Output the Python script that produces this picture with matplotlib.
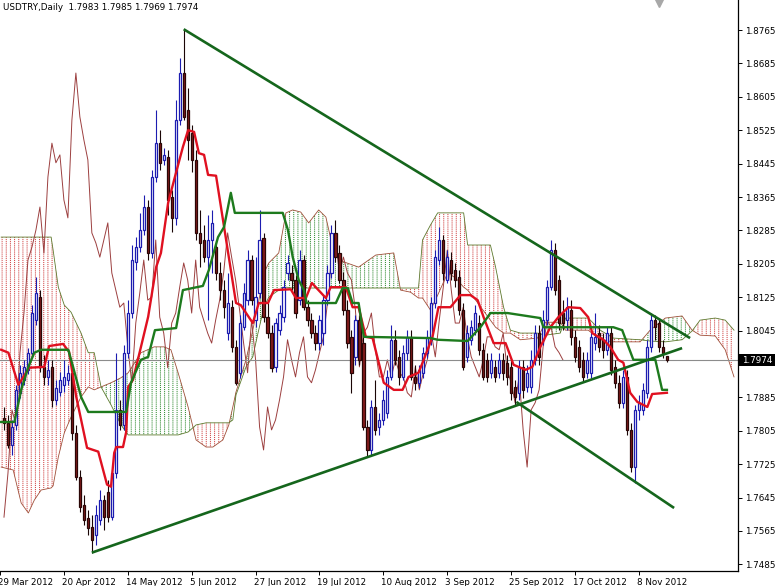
import numpy as np
import pandas as pd
import matplotlib
matplotlib.use("Agg")
from matplotlib import pyplot as plt
from matplotlib import transforms
from matplotlib.patches import Rectangle

symbol = "USDTRY,Daily"
last_quote = [1.7983, 1.7985, 1.7969, 1.7974]

opens = [
    1.7836, 1.7824, 1.7771, 1.7819, 1.7896, 1.7927, 1.7951, 1.7992, 1.8070, 1.8125,
    1.7958, 1.7934, 1.7958, 1.7879, 1.7898, 1.7915, 1.7927, 1.7944, 1.7800, 1.7694,
    1.7627, 1.7596, 1.7574, 1.7555, 1.7591, 1.7639, 1.7658, 1.7598, 1.7704, 1.7855,
    1.7819, 1.7992, 1.8087, 1.8209, 1.8245, 1.8286, 1.8341, 1.8231, 1.8413, 1.8494,
    1.8454, 1.8461, 1.8365, 1.8315, 1.8549, 1.8662, 1.8573, 1.8518, 1.8454, 1.8279,
    1.8262, 1.8221, 1.8262, 1.8245, 1.8183, 1.8142, 1.8039, 1.8101, 1.8006, 1.7944,
    1.8053, 1.8118, 1.8214, 1.8070, 1.8135, 1.8267, 1.8077, 1.8039, 1.7958, 1.8046,
    1.8077, 1.8183, 1.8183, 1.8166, 1.8118, 1.8214, 1.8101, 1.8070, 1.8039, 1.8015,
    1.8039, 1.8118, 1.8183, 1.8279, 1.8231, 1.8166, 1.8094, 1.8030, 1.7982, 1.8070,
    1.8015, 1.7814, 1.7759, 1.7862, 1.7814, 1.7831, 1.7848, 1.7934, 1.8023, 1.7982,
    1.7934, 1.7992, 1.8030, 1.7934, 1.7920, 1.7944, 1.7992, 1.8023, 1.8111, 1.8214,
    1.8262, 1.8166, 1.8214, 1.8190, 1.8173, 1.8094, 1.7982, 1.8023, 1.8046, 1.8063,
    1.7999, 1.7975, 1.7944, 1.7958, 1.7944, 1.7975, 1.7968, 1.7958, 1.7910, 1.7896,
    1.7958, 1.7910, 1.7910, 1.7975, 1.8039, 1.8023, 1.8070, 1.8149, 1.8238, 1.8166,
    1.8087, 1.8070, 1.8094, 1.8030, 1.8006, 1.7975, 1.7944, 1.7944, 1.8015, 1.8039,
    1.8023, 1.7999, 1.8039, 1.7958, 1.7920, 1.7872, 1.7934, 1.7807, 1.7718, 1.7855,
    1.7855, 1.7896, 1.8006, 1.8070, 1.8063, 1.8006, 1.7983,
]
highs = [
    1.7862, 1.7843, 1.7831, 1.7915, 1.7963, 1.7975, 1.8004, 1.8106, 1.8173, 1.8142,
    1.7987, 1.7975, 1.7975, 1.7927, 1.7946, 1.7975, 1.7963, 1.7956, 1.7819, 1.7711,
    1.7651, 1.7615, 1.7603, 1.7627, 1.7663, 1.7651, 1.7687, 1.7711, 1.7992, 1.7879,
    1.8011, 1.8118, 1.8250, 1.8269, 1.8327, 1.8370, 1.8358, 1.8430, 1.8573, 1.8525,
    1.8483, 1.8478, 1.8382, 1.8597, 1.8698, 1.8767, 1.8626, 1.8537, 1.8478, 1.8334,
    1.8298, 1.8322, 1.8334, 1.8262, 1.8209, 1.8166, 1.8183, 1.8118, 1.8023, 1.8082,
    1.8159, 1.8238, 1.8226, 1.8221, 1.8334, 1.8279, 1.8118, 1.8058, 1.8075, 1.8106,
    1.8166, 1.8226, 1.8202, 1.8178, 1.8238, 1.8226, 1.8118, 1.8087, 1.8058, 1.8082,
    1.8130, 1.8202, 1.8298, 1.8310, 1.8250, 1.8185, 1.8118, 1.8046, 1.8082, 1.8082,
    1.8032, 1.7831, 1.7879, 1.7927, 1.7848, 1.7903, 1.7951, 1.8058, 1.8046, 1.7999,
    1.8011, 1.8046, 1.8046, 1.7963, 1.7963, 1.8006, 1.8046, 1.8125, 1.8238, 1.8293,
    1.8274, 1.8238, 1.8233, 1.8207, 1.8190, 1.8111, 1.8058, 1.8070, 1.8106, 1.8082,
    1.8015, 1.7992, 1.7992, 1.7975, 1.7992, 1.7992, 1.7987, 1.7975, 1.7927, 1.7975,
    1.7975, 1.7963, 1.7999, 1.8058, 1.8058, 1.8094, 1.8166, 1.8262, 1.8255, 1.8178,
    1.8118, 1.8125, 1.8118, 1.8046, 1.8023, 1.7994, 1.7994, 1.8046, 1.8087, 1.8058,
    1.8039, 1.8053, 1.8053, 1.7975, 1.7939, 1.7951, 1.7951, 1.7824, 1.7867, 1.7891,
    1.7920, 1.8023, 1.8087, 1.8082, 1.8075, 1.8023, 1.7985,
]
lows = [
    1.7807, 1.7764, 1.7747, 1.7807, 1.7884, 1.7915, 1.7941, 1.7985, 1.8058, 1.7946,
    1.7915, 1.7915, 1.7862, 1.7867, 1.7889, 1.7898, 1.7915, 1.7783, 1.7687, 1.7610,
    1.7579, 1.7555, 1.7513, 1.7532, 1.7579, 1.7567, 1.7586, 1.7591, 1.7692, 1.7807,
    1.7807, 1.7980, 1.8075, 1.8190, 1.8233, 1.8274, 1.8214, 1.8219, 1.8401, 1.8430,
    1.8442, 1.8322, 1.8281, 1.8298, 1.8537, 1.8549, 1.8454, 1.8425, 1.8262, 1.8197,
    1.8209, 1.8070, 1.8183, 1.8166, 1.8118, 1.8075, 1.8023, 1.7994, 1.7915, 1.7932,
    1.8046, 1.8106, 1.8106, 1.8053, 1.8123, 1.8065, 1.8027, 1.7946, 1.7946, 1.8034,
    1.8065, 1.8166, 1.8142, 1.8075, 1.8106, 1.8094, 1.8056, 1.8027, 1.7999, 1.7999,
    1.8011, 1.8106, 1.8171, 1.8209, 1.8159, 1.8082, 1.8004, 1.7896, 1.7963, 1.7963,
    1.7807, 1.7742, 1.7747, 1.7795, 1.7795, 1.7819, 1.7836, 1.7927, 1.7963, 1.7915,
    1.7927, 1.7975, 1.7927, 1.7903, 1.7908, 1.7932, 1.7980, 1.8011, 1.8099, 1.8202,
    1.8166, 1.8159, 1.8166, 1.8149, 1.8082, 1.7951, 1.7970, 1.8011, 1.8034, 1.7987,
    1.7927, 1.7922, 1.7932, 1.7922, 1.7932, 1.7927, 1.7915, 1.7879, 1.7867, 1.7879,
    1.7884, 1.7898, 1.7896, 1.7963, 1.7963, 1.8011, 1.8058, 1.8142, 1.8130, 1.8046,
    1.8046, 1.8046, 1.8011, 1.7970, 1.7946, 1.7922, 1.7932, 1.7932, 1.7999, 1.7994,
    1.7980, 1.7987, 1.7939, 1.7908, 1.7860, 1.7860, 1.7795, 1.7706, 1.7680, 1.7831,
    1.7843, 1.7884, 1.7994, 1.8023, 1.7994, 1.7980, 1.7969,
]
closes = [
    1.7824, 1.7771, 1.7814, 1.7903, 1.7944, 1.7958, 1.7992, 1.8087, 1.8135, 1.7958,
    1.7934, 1.7951, 1.7879, 1.7908, 1.7927, 1.7934, 1.7944, 1.7800, 1.7694, 1.7622,
    1.7591, 1.7572, 1.7544, 1.7603, 1.7639, 1.7598, 1.7598, 1.7704, 1.7855, 1.7819,
    1.7992, 1.8087, 1.8214, 1.8245, 1.8286, 1.8341, 1.8231, 1.8413, 1.8494, 1.8447,
    1.8466, 1.8358, 1.8315, 1.8549, 1.8662, 1.8557, 1.8502, 1.8454, 1.8279, 1.8255,
    1.8221, 1.8262, 1.8303, 1.8183, 1.8142, 1.8101, 1.8111, 1.8006, 1.7920, 1.8063,
    1.8135, 1.8214, 1.8118, 1.8125, 1.8262, 1.8077, 1.8039, 1.7956, 1.8063, 1.8087,
    1.8149, 1.8207, 1.8166, 1.8087, 1.8214, 1.8101, 1.8070, 1.8039, 1.8015, 1.8070,
    1.8118, 1.8183, 1.8279, 1.8221, 1.8166, 1.8094, 1.8015, 1.7944, 1.8070, 1.7975,
    1.7814, 1.7759, 1.7862, 1.7807, 1.7831, 1.7879, 1.7934, 1.8023, 1.7975, 1.7934,
    1.7992, 1.8030, 1.7934, 1.7920, 1.7951, 1.7992, 1.8030, 1.8111, 1.8221, 1.8262,
    1.8183, 1.8221, 1.8183, 1.8166, 1.8094, 1.7958, 1.8039, 1.8053, 1.8087, 1.7999,
    1.7934, 1.7934, 1.7975, 1.7934, 1.7975, 1.7944, 1.7934, 1.7896, 1.7886, 1.7958,
    1.7903, 1.7944, 1.7975, 1.8039, 1.7982, 1.8070, 1.8149, 1.8238, 1.8142, 1.8063,
    1.8063, 1.8101, 1.8030, 1.7982, 1.7958, 1.7934, 1.7975, 1.8030, 1.8030, 1.8006,
    1.7999, 1.8039, 1.7951, 1.7920, 1.7872, 1.7934, 1.7807, 1.7718, 1.7855, 1.7872,
    1.7903, 1.8006, 1.8070, 1.8053, 1.8006, 1.7992, 1.7974,
]

tick_dates = ["29 Mar 2012", "20 Apr 2012", "14 May 2012", "5 Jun 2012",
              "27 Jun 2012", "19 Jul 2012", "10 Aug 2012", "3 Sep 2012",
              "25 Sep 2012", "17 Oct 2012", "8 Nov 2012"]
price_ticks = [1.8765, 1.8685, 1.8605, 1.8525, 1.8445, 1.8365, 1.8285, 1.8205,
               1.8125, 1.8045, 1.7965, 1.7885, 1.7805, 1.7725, 1.7645, 1.7565, 1.7485]

# ichimoku lines, read as vertices (bar index, price)
tenkan_x = [-0.7, 1.1, 3.6, 6.3, 10.1, 11.3, 14.8, 16.3, 18.1, 20.8, 23.6, 25.8, 26.8,
            27.6, 28.1, 29.8, 30.6, 31.1, 32.3, 34.3, 36.1, 38.1, 39.3, 41.1, 42.6,
            44.8, 46.1, 47.6, 48.8, 50.1, 51.1, 53.1, 58.1, 59.3, 62.3, 63.8, 66.1,
            67.6, 71.8, 73.1, 75.6, 77.1, 80.6, 81.8, 85.6, 87.3, 88.8, 90.6, 92.3,
            95.1, 97.6, 99.8, 101.3, 103.8, 105.1, 107.3, 108.8, 111.8, 114.3, 116.8,
            118.6, 120.1, 122.6, 125.6, 127.6, 130.6, 132.3, 134.3, 136.8, 138.8,
            141.3, 144.3, 146.3, 147.3, 150.1, 151.8, 153.8, 155.1, 156.8, 158.6,
            161.1, 162.3, 166.0]
tenkan_y = [1.7999, 1.7992, 1.7915, 1.7956, 1.7958, 1.8008, 1.8013, 1.7994, 1.7886,
            1.7764, 1.7755, 1.7676, 1.7671, 1.7752, 1.7766, 1.7766, 1.7802, 1.7910,
            1.7927, 1.8006, 1.8078, 1.8197, 1.8231, 1.8351, 1.8406, 1.8485, 1.8525,
            1.8521, 1.8470, 1.8466, 1.8418, 1.8416, 1.8111, 1.8106, 1.8063, 1.8111,
            1.8111, 1.8142, 1.8144, 1.8123, 1.8123, 1.8159, 1.8123, 1.8149, 1.8149,
            1.8101, 1.8101, 1.8030, 1.8027, 1.7920, 1.7903, 1.7903, 1.7934, 1.7944,
            1.7975, 1.8030, 1.8101, 1.8101, 1.8130, 1.8130, 1.8118, 1.8077, 1.8015,
            1.8015, 1.7963, 1.7951, 1.7958, 1.8006, 1.8053, 1.8077, 1.8101, 1.8099,
            1.8077, 1.8039, 1.8023, 1.8006, 1.7975, 1.7968, 1.7896, 1.7874, 1.7862,
            1.7893, 1.7896]
kijun_x = [-0.7, 2.6, 4.3, 6.1, 7.6, 9.3, 16.1, 17.3, 19.3, 21.1, 30.6, 31.8, 34.3,
           36.1, 37.8, 43.1, 44.8, 49.8, 51.3, 53.6, 55.1, 56.8, 57.8, 69.8, 71.1,
           72.3, 73.8, 75.1, 75.8, 83.1, 84.8, 86.1, 87.3, 88.8, 90.1, 106.8, 108.6,
           116.1, 119.3, 121.8, 126.1, 134.3, 135.1, 152.6, 154.8, 157.6, 163.1,
           164.8, 166.0]
kijun_y = [1.7826, 1.7826, 1.7903, 1.7958, 1.7992, 1.7999, 1.7999, 1.7958, 1.7886,
           1.7850, 1.7850, 1.7920, 1.7975, 1.7982, 1.8046, 1.8051, 1.8142, 1.8152,
           1.8190, 1.8269, 1.8293, 1.8375, 1.8327, 1.8327, 1.8286, 1.8221, 1.8166,
           1.8142, 1.8111, 1.8111, 1.8147, 1.8147, 1.8111, 1.8111, 1.8030, 1.8027,
           1.8023, 1.8020, 1.8053, 1.8087, 1.8087, 1.8075, 1.8053, 1.8053, 1.8046,
           1.7975, 1.7975, 1.7903, 1.7903]

cloud_x = [-0.7, 2.3, 4.3, 6.1, 7.6, 9.3, 11.8, 12.3, 13.6, 15.1, 16.8, 19.3, 21.1,
           22.6, 24.3, 26.8, 29.3, 31.1, 34.3, 37.6, 40.1, 41.8, 43.6, 46.1, 48.1,
           50.6, 52.3, 54.8, 56.3, 57.3, 58.1, 60.6, 62.3, 63.6, 65.1, 66.3, 68.8,
           70.6, 72.3, 74.3, 76.3, 78.8, 80.6, 82.3, 83.8, 88.8, 93.1, 97.6, 99.3,
           101.8, 103.8, 104.8, 106.8, 108.6, 111.1, 113.1, 115.1, 116.1, 118.1,
           121.8, 123.1, 125.1, 126.8, 129.3, 133.6, 135.6, 139.3, 140.6, 146.3,
           149.3, 152.6, 159.3, 161.8, 165.6, 169.8, 172.3, 174.3, 178.1, 180.6, 182.8]
span_a = [1.7718, 1.7711, 1.7632, 1.7608, 1.7639, 1.7663, 1.7668, 1.7673, 1.7742,
          1.7800, 1.7838, 1.7886, 1.7910, 1.7903, 1.7910, 1.7920, 1.7932, 1.7944,
          1.7992, 1.8006, 1.8006, 1.7999, 1.7944, 1.7862, 1.7783, 1.7766, 1.7766,
          1.7783, 1.7819, 1.7862, 1.7898, 1.7975, 1.8046, 1.8106, 1.8183, 1.8207,
          1.8231, 1.8327, 1.8334, 1.8329, 1.8303, 1.8334, 1.8317, 1.8245, 1.8214,
          1.8197, 1.8226, 1.8231, 1.8142, 1.8137, 1.8123, 1.8123, 1.8094, 1.8130,
          1.8183, 1.8171, 1.8149, 1.8142, 1.8118, 1.8070, 1.8053, 1.8039, 1.8039,
          1.8023, 1.8027, 1.8065, 1.8065, 1.8046, 1.8046, 1.8023, 1.8018, 1.8018,
          1.8046, 1.8075, 1.8080, 1.8046, 1.8034, 1.8032, 1.7999, 1.7934]
span_b = [1.8269, 1.8269, 1.8269, 1.8269, 1.8269, 1.8269, 1.8269, 1.8238, 1.8149,
          1.8106, 1.8089, 1.8039, 1.7992, 1.7992, 1.7910, 1.7867, 1.7819, 1.7795,
          1.7795, 1.7795, 1.7795, 1.7795, 1.7795, 1.7802, 1.7819, 1.7824, 1.7824,
          1.7824, 1.7824, 1.7831, 1.7891, 1.7958, 1.7982, 1.8039, 1.8101, 1.8125,
          1.8142, 1.8149, 1.8147, 1.8147, 1.8147, 1.8147, 1.8147, 1.8147, 1.8147,
          1.8147, 1.8147, 1.8147, 1.8147, 1.8147, 1.8147, 1.8262, 1.8298, 1.8327,
          1.8327, 1.8327, 1.8327, 1.8250, 1.8250, 1.8250, 1.8197, 1.8101, 1.8046,
          1.8039, 1.8039, 1.8034, 1.8039, 1.8075, 1.8075, 1.8046, 1.8027, 1.8023,
          1.8020, 1.8018, 1.8023, 1.8044, 1.8070, 1.8075, 1.8070, 1.8046]

# hand drawn trend lines (bar index, price)
upper_line = ([45, 171.8], [1.8767, 1.8027])
lower_line = ([22, 169.8], [1.7513, 1.8003])
channel_line = ([128.3, 167.8], [1.7874, 1.7620])

opens, highs, lows, closes = map(np.array, (opens, highs, lows, closes))
span_a, span_b = np.array(span_a), np.array(span_b)
n = len(closes)
x = np.arange(n)
all_days = pd.bdate_range("2012-03-29", periods=n + 1)
tick_pos = [all_days.get_loc(pd.Timestamp(d)) - 1 for d in tick_dates]

plt.rcParams["hatch.linewidth"] = 0.7
fig = plt.figure(figsize=(7.75, 5.86), dpi=100)
ax = fig.add_axes([0, 15 / 586, 738 / 775, 571 / 586])

# cloud: vertical hatching broken into dots by a white horizontal hatch
bear = span_a < span_b
for where, col in ((bear, "#cf3b3b"), (~bear, "#2a872a")):
    ax.fill_between(cloud_x, span_a, span_b, where=where, interpolate=True,
                    facecolor="none", edgecolor=col, hatch="||||", linewidth=0, zorder=1)
ax.fill_between(cloud_x, span_a, span_b, facecolor="none", edgecolor="white",
                hatch="--------", linewidth=0, zorder=1.1)
ax.plot(cloud_x, span_a, color="#a0503a", lw=0.6, zorder=1.5)
ax.plot(cloud_x, span_b, color="#5d7a2e", lw=0.6, zorder=1.5)

# chikou span = close shifted back 26 bars
ax.plot(x[26:] - 26, closes[26:], color="#9c3f3f", lw=0.7, zorder=2)

ax.axhline(last_quote[3], color="#8c8c8c", lw=0.8, zorder=2)

# candles
up = closes >= opens
up_col = "#1c1cb0"
ax.vlines(x[up], lows[up], highs[up], color=up_col, lw=0.8, zorder=3)
ax.vlines(x[~up], lows[~up], highs[~up], color="#1a0505", lw=0.8, zorder=3)
ax.bar(x[up], closes[up] - opens[up], bottom=opens[up], width=0.55,
       facecolor="white", edgecolor=up_col, linewidth=0.9, zorder=4)
ax.bar(x[~up], opens[~up] - closes[~up], bottom=closes[~up], width=0.55,
       facecolor="#861c1c", edgecolor="#2a0606", linewidth=0.9, zorder=4)

ax.plot(tenkan_x, tenkan_y, color="#e01020", lw=1.7, zorder=5)
ax.plot(kijun_x, kijun_y, color="#1d7a1d", lw=1.7, zorder=5)

for line in (upper_line, lower_line, channel_line):
    ax.plot(line[0], line[1], color="#15661c", lw=1.9, zorder=6, solid_capstyle="butt")

ax.set_xlim(-0.675, 183.8)
ax.set_ylim(1.7469, 1.8837)

for side in ("top", "left"):
    ax.spines[side].set_visible(False)
for side in ("right", "bottom"):
    ax.spines[side].set_linewidth(0.9)

ax.yaxis.tick_right()
ax.set_yticks(price_ticks, ["" if abs(v - last_quote[3]) < 0.002 else f"{v:.4f}"
                            for v in price_ticks])
ax.tick_params(axis="y", length=3, width=0.7, pad=2, labelsize=6.3)
ax.set_xticks(tick_pos, tick_dates)
ax.tick_params(axis="x", length=3, width=0.7, pad=2, labelsize=6.3)
shift = transforms.ScaledTranslation(-2 / 100, 0, fig.dpi_scale_trans)
for lab in ax.get_xticklabels():
    lab.set_horizontalalignment("left")
    lab.set_transform(lab.get_transform() + shift)

# current price marker on the price scale
fig_y = transforms.blended_transform_factory(fig.transFigure, ax.transData)
ax.add_patch(Rectangle((738 / 775, last_quote[3] - 0.00145), 37 / 775, 0.0029,
                       transform=fig_y, facecolor="black", edgecolor="none",
                       zorder=20, clip_on=False))
ax.text(742 / 775, last_quote[3], f"{last_quote[3]:.4f}", transform=fig_y,
        ha="left", va="center", color="white", fontsize=6.3, zorder=21, clip_on=False)

ax.text(0.004, 0.995, symbol + "  " + " ".join(f"{v:.4f}" for v in last_quote),
        transform=ax.transAxes, ha="left", va="top", fontsize=6.3, color="black")
ax.plot([0.893], [0.995], marker="v", ms=6, color="#a8a8a8",
        transform=ax.transAxes, clip_on=False)

fig.savefig("out.png", dpi=100)
